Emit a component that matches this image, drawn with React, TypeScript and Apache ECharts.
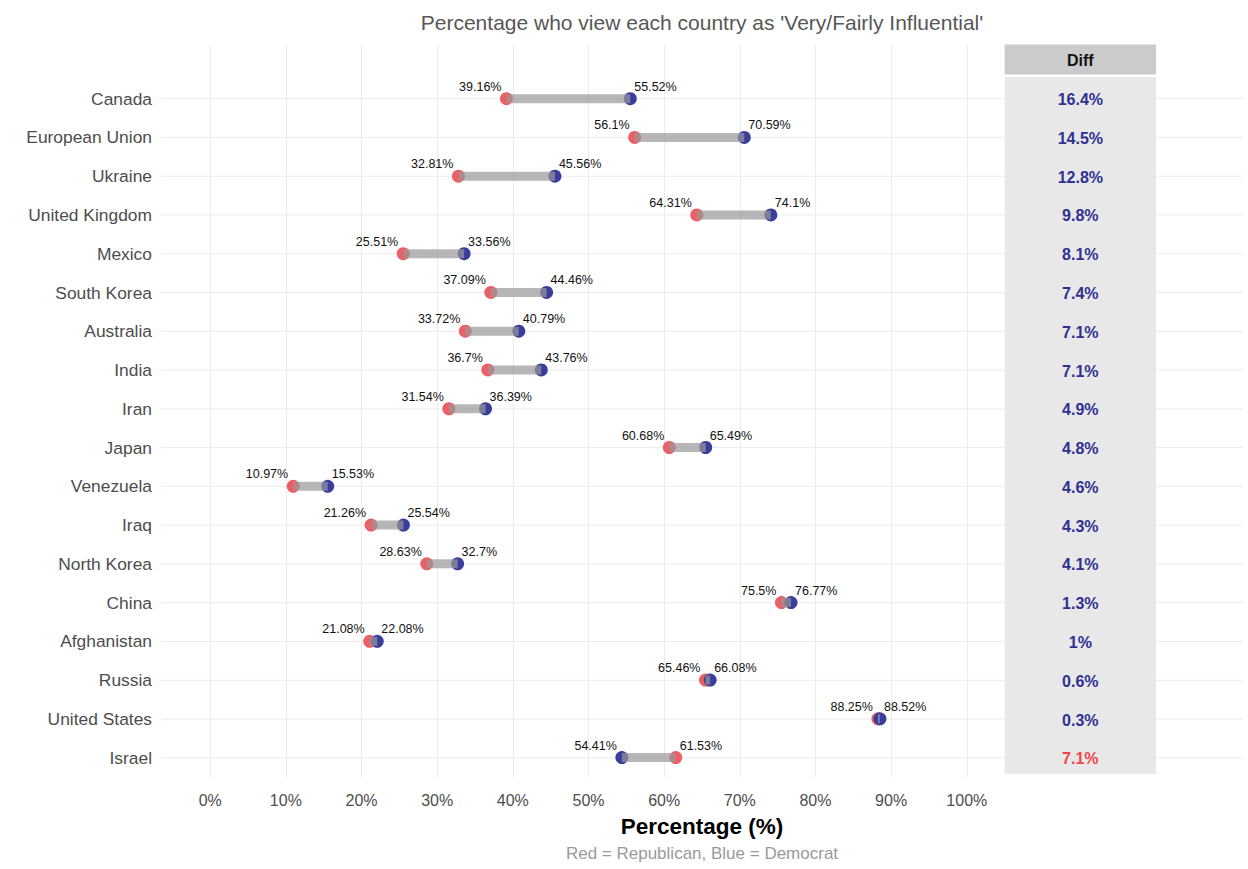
import React, { useEffect, useRef } from 'react';
import * as echarts from 'echarts';

// ---- data ----
const countries = ['Canada', 'European Union', 'Ukraine', 'United Kingdom', 'Mexico', 'South Korea', 'Australia', 'India', 'Iran', 'Japan', 'Venezuela', 'Iraq', 'North Korea', 'China', 'Afghanistan', 'Russia', 'United States', 'Israel'];
const republican = [39.16, 56.1, 32.81, 64.31, 25.51, 37.09, 33.72, 36.7, 31.54, 60.68, 10.97, 21.26, 28.63, 75.5, 21.08, 65.46, 88.25, 61.53];
const democrat = [55.52, 70.59, 45.56, 74.1, 33.56, 44.46, 40.79, 43.76, 36.39, 65.49, 15.53, 25.54, 32.7, 76.77, 22.08, 66.08, 88.52, 54.41];
const diffs = [16.4, 14.5, 12.8, 9.8, 8.1, 7.4, 7.1, 7.1, 4.9, 4.8, 4.6, 4.3, 4.1, 1.3, 1, 0.6, 0.3, -7.1];
const diffHeader = 'Diff';
const titleText = "Percentage who view each country as 'Very/Fairly Influential'";
const xTitle = 'Percentage (%)';
const caption = 'Red = Republican, Blue = Democrat';
const xMin = 0;
const xMax = 100;
const xStep = 10;

// ---- styles ----
const FONT = '"Liberation Sans", Arial, Helvetica, sans-serif';
const RED = '#ec5f66';
const BLUE = '#3a3d9c';
const NAVY = '#2f3192';
const DIFF_RED = '#f0464c';
const GRID_COLOR = '#ebebeb';
const PANEL_X = [105, 125];

export default function App() {
  const ref = useRef<HTMLDivElement>(null);
  useEffect(() => {
    if (!ref.current) return;
    const chart = echarts.init(ref.current, null, { renderer: 'svg' });
    const yCats = [''].concat(countries);

    const centerText = (x: number, y: number, text: string, font: string, fill: string) => ({
      type: 'text', x, y,
      style: { text, fill, font, align: 'center', verticalAlign: 'middle', textAlign: 'center', textVerticalAlign: 'middle' },
    });

    const option: any = {
      animation: false,
      backgroundColor: '#ffffff',
      textStyle: { fontFamily: FONT },
      grid: [
        { left: 210.2, right: 281.2, top: 45.3, bottom: 91.3 },
        { left: 161, right: 5, top: 40.5, bottom: 91.8 },
      ],
      xAxis: [
        {
          gridIndex: 0, type: 'value', min: xMin, max: xMax, interval: xStep,
          axisLine: { show: false }, axisTick: { show: false },
          splitLine: { show: true, lineStyle: { color: GRID_COLOR, width: 1 } },
          axisLabel: { formatter: '{value}%', color: '#4d4d4d', fontSize: 16, margin: 15, fontFamily: FONT },
        },
        { gridIndex: 1, type: 'value', min: -6.5, max: 136.5, show: false },
      ],
      yAxis: [
        { gridIndex: 0, type: 'value', min: -1.378, max: 17.52, inverse: true, show: false },
        {
          gridIndex: 1, type: 'category', data: yCats, inverse: true,
          axisLine: { show: false }, axisTick: { show: false }, splitLine: { show: false },
          axisLabel: { color: '#4d4d4d', fontSize: 17.4, margin: 9, fontFamily: FONT, interval: 0 },
        },
      ],
      graphic: [
        centerText(702, 22, titleText, `21px ${FONT}`, '#575757'),
        centerText(702, 826, xTitle, `bold 22.5px ${FONT}`, '#000000'),
        centerText(702, 853, caption, `17px ${FONT}`, '#9a9a9a'),
      ],
      series: [
        // horizontal row gridlines (full panel width)
        {
          type: 'custom', xAxisIndex: 1, yAxisIndex: 1, z: 1, silent: true,
          data: countries.map((c, i) => [0, i + 1]),
          renderItem: (params: any, api: any) => {
            const y = api.coord([0, api.value(1)])[1];
            const cs = params.coordSys;
            return { type: 'line', shape: { x1: cs.x, y1: y, x2: cs.x + cs.width, y2: y }, style: { stroke: GRID_COLOR, lineWidth: 1 } };
          },
        },
        // diff panel background + header
        {
          type: 'custom', xAxisIndex: 1, yAxisIndex: 1, z: 2, silent: true,
          data: [[PANEL_X[0], PANEL_X[1]]],
          renderItem: (params: any, api: any) => {
            const step = api.size([0, 1])[1];
            const x0 = api.coord([api.value(0), 0])[0];
            const x1 = api.coord([api.value(1), 0])[0];
            const yh = api.coord([0, 0])[1];
            const yFirst = api.coord([0, 1])[1];
            const yLast = api.coord([0, countries.length])[1];
            const hTop = yh - 0.40 * step;
            const hBot = yh + 0.38 * step;
            const bTop = yFirst - 0.56 * step;
            const bBot = yLast + 0.42 * step;
            return {
              type: 'group',
              children: [
                { type: 'rect', shape: { x: x0, y: hTop, width: x1 - x0, height: hBot - hTop }, style: { fill: '#cbcbcb' } },
                { type: 'rect', shape: { x: x0, y: bTop, width: x1 - x0, height: bBot - bTop }, style: { fill: '#e8e8e9' } },
                centerText((x0 + x1) / 2, yh + 1, diffHeader, `bold 16px ${FONT}`, '#111111'),
              ],
            };
          },
        },
        // diff values
        {
          type: 'custom', xAxisIndex: 1, yAxisIndex: 1, z: 3, silent: true,
          data: diffs.map((d, i) => [(PANEL_X[0] + PANEL_X[1]) / 2, i + 1, d]),
          renderItem: (params: any, api: any) => {
            const p = api.coord([api.value(0), api.value(1)]);
            const d = api.value(2);
            return centerText(p[0], p[1] + 1, `${Math.abs(d)}%`, `bold 16px ${FONT}`, d < 0 ? DIFF_RED : NAVY);
          },
        },
        // republican dots
        {
          name: 'Republican', type: 'scatter', xAxisIndex: 0, yAxisIndex: 0, z: 4,
          symbolSize: 13, itemStyle: { color: RED, opacity: 1 },
          data: countries.map((c, i) => [republican[i], i]),
        },
        // democrat dots
        {
          name: 'Democrat', type: 'scatter', xAxisIndex: 0, yAxisIndex: 0, z: 5,
          symbolSize: 13, itemStyle: { color: BLUE, opacity: 1 },
          data: countries.map((c, i) => [democrat[i], i]),
        },
        // segments + labels
        {
          type: 'custom', xAxisIndex: 0, yAxisIndex: 0, z: 6, silent: true,
          data: countries.map((c, i) => [republican[i], democrat[i], i]),
          renderItem: (params: any, api: any) => {
            const r = api.value(0);
            const d = api.value(1);
            const i = api.value(2);
            const lo = Math.min(r, d);
            const hi = Math.max(r, d);
            const pl = api.coord([lo, i]);
            const ph = api.coord([hi, i]);
            return {
              type: 'group',
              children: [
                { type: 'line', shape: { x1: pl[0], y1: pl[1], x2: ph[0], y2: ph[1] }, style: { stroke: '#999999', lineWidth: 9, opacity: 0.7, lineCap: 'butt' } },
                { type: 'text', x: pl[0] - 5, y: pl[1] - 12, style: { text: `${lo}%`, fill: '#111111', font: `12.5px ${FONT}`, align: 'right', verticalAlign: 'middle', textAlign: 'right', textVerticalAlign: 'middle' } },
                { type: 'text', x: ph[0] + 4, y: ph[1] - 12, style: { text: `${hi}%`, fill: '#111111', font: `12.5px ${FONT}`, align: 'left', verticalAlign: 'middle', textAlign: 'left', textVerticalAlign: 'middle' } },
              ],
            };
          },
        },
      ],
    };
    chart.setOption(option);
    return () => chart.dispose();
  }, []);
  return <div ref={ref} style={{ position: 'fixed', left: 0, top: 0, width: 1248, height: 869 }} />;
}
